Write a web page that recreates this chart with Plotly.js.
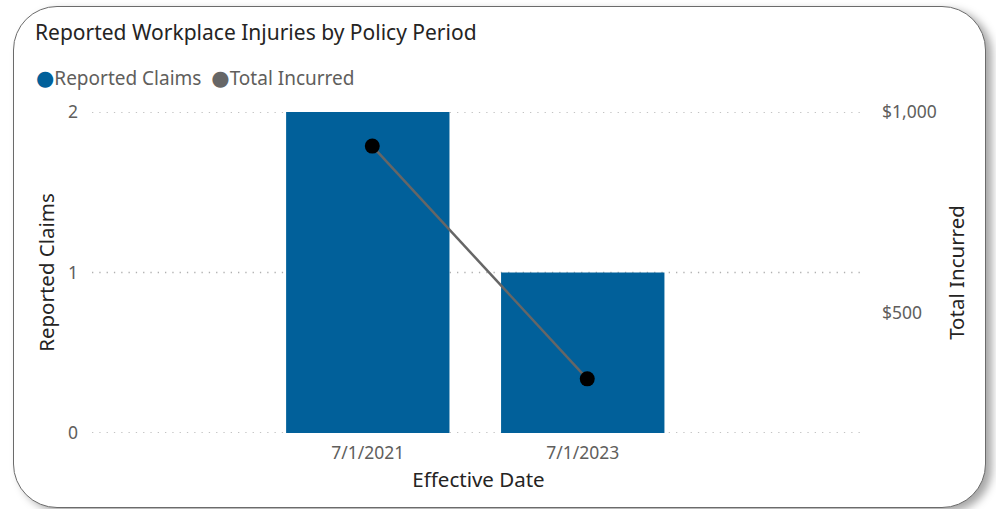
<!DOCTYPE html>
<html>
<head>
<meta charset="utf-8">
<script src="https://cdn.plot.ly/plotly-3.0.1.min.js"></script>
<style>
  html, body { margin: 0; padding: 0; background: #ffffff; width: 996px; height: 509px; overflow: hidden; }
  #card { position: absolute; left: 13px; top: 6px; width: 971px; height: 500px;
          border: 1.5px solid #6b6b6b; border-radius: 44px; background: #ffffff;
          box-shadow: 6px 4px 8px rgba(0,0,0,0.35); }
  #chart { position: absolute; left: 0; top: 0; width: 996px; height: 509px; }
</style>
</head>
<body>
<div id="card"></div>
<div id="chart"></div>
<script>
const categories = ["7/1/2021", "7/1/2023"];
const reportedClaims = [2, 1];
const totalIncurred = [915, 335];
const claimTicks = [0, 1, 2];
const incurredTicks = [500, 1000];

const FONT = "Noto Sans, Open Sans, DejaVu Sans, sans-serif";
const xr = [-1.283, 2.313];
const shift = 4.5 / 215;

const traces = [
  {
    type: "bar",
    name: "Reported Claims",
    x: categories,
    y: reportedClaims,
    marker: { color: "#01609A" },
    width: 0.76,
    showlegend: false,
    hoverinfo: "x+y"
  },
  {
    type: "scatter",
    mode: "lines+markers",
    name: "Total Incurred",
    x: categories,
    y: totalIncurred,
    xaxis: "x2",
    yaxis: "y2",
    line: { color: "#666666", width: 2.5 },
    marker: { color: "#000000", size: 15 },
    showlegend: false
  }
];

const gridShapes = claimTicks.map(v => ({
  type: "line", layer: "below",
  xref: "paper", x0: 0, x1: 1,
  yref: "y", y0: v, y1: v,
  line: { color: "#B0B0B0", width: 1.3, dash: "1.3px,6px" }
}));

const layout = {
  width: 996,
  height: 509,
  paper_bgcolor: "rgba(0,0,0,0)",
  plot_bgcolor: "rgba(0,0,0,0)",
  margin: { l: 92, r: 131, t: 112, b: 76 },
  font: { family: FONT, color: "#605E5C", size: 17 },
  title: {
    text: "Reported Workplace Injuries by Policy Period",
    x: 35 / 996, xanchor: "left", xref: "container",
    y: 1 - 33 / 509, yanchor: "middle", yref: "container",
    font: { family: FONT, size: 21, color: "#252423" }
  },
  xaxis: {
    type: "category",
    range: xr,
    showgrid: false,
    zeroline: false,
    showline: false,
    ticks: "",
    ticklabelstandoff: 7,
    tickfont: { size: 17.5, color: "#605E5C" },
    title: { text: "Effective Date", font: { size: 20.5, color: "#252423" }, standoff: 10 }
  },
  xaxis2: {
    type: "category",
    overlaying: "x",
    range: [xr[0] - shift, xr[1] - shift],
    visible: false
  },
  yaxis: {
    range: [0, 2],
    tickvals: claimTicks,
    showgrid: false,
    zeroline: false,
    showline: false,
    ticks: "",
    ticklabelstandoff: 13,
    tickfont: { size: 17.5, color: "#605E5C" },
    title: { text: "Reported Claims", font: { size: 20.5, color: "#252423" }, standoff: 7 }
  },
  yaxis2: {
    overlaying: "y",
    side: "right",
    anchor: "x",
    range: [200, 1000],
    tickvals: incurredTicks,
    tickformat: "$,",
    showgrid: false,
    zeroline: false,
    showline: false,
    ticks: "",
    ticklabelstandoff: 16,
    tickfont: { size: 17.5, color: "#605E5C" },
    title: { text: "Total Incurred", font: { size: 20.5, color: "#252423" }, standoff: 13 }
  },
  shapes: gridShapes,
  annotations: [
    {
      xref: "paper", yref: "paper",
      x: (34 - 92) / 773, xanchor: "left",
      y: 1 + (112 - 77) / 321, yanchor: "middle",
      showarrow: false,
      text: "<span style='color:#01609A;font-size:21px'>●</span>Reported Claims&nbsp; <span style='color:#666666;font-size:21px'>●</span>Total Incurred",
      font: { family: FONT, size: 19, color: "#605E5C" }
    }
  ]
};

Plotly.newPlot("chart", traces, layout, { displayModeBar: false, staticPlot: true });
</script>
</body>
</html>
